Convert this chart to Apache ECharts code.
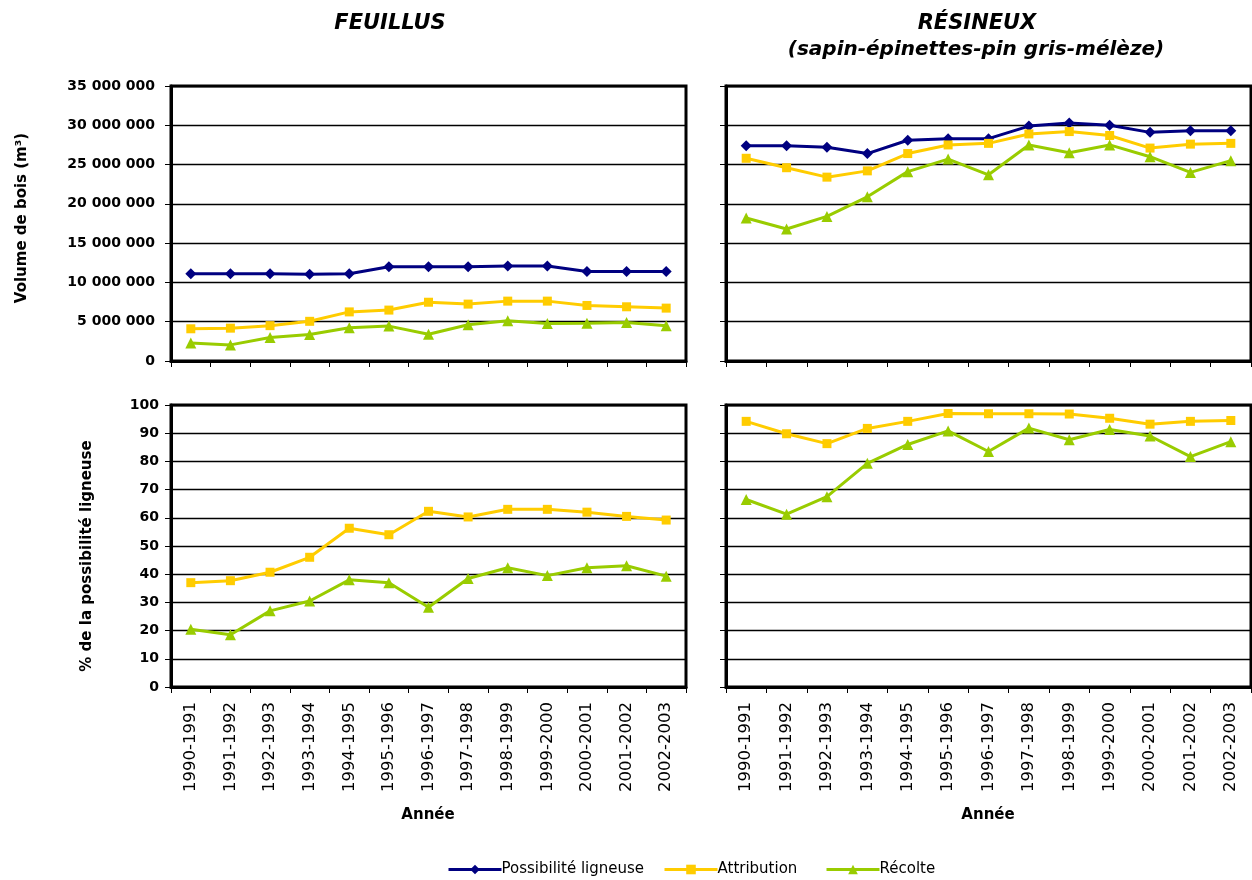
<!DOCTYPE html>
<html>
<head>
<meta charset="utf-8">
<script src="https://cdn.jsdelivr.net/npm/echarts@6/dist/echarts.min.js"></script>
<style>
html,body{margin:0;padding:0;background:#fff;}
#chart{width:1252px;height:880px;}
</style>
</head>
<body>
<div id="chart"></div>
<script>
const categories = ['1990-1991','1991-1992','1992-1993','1993-1994','1994-1995','1995-1996','1996-1997','1997-1998','1998-1999','1999-2000','2000-2001','2001-2002','2002-2003'];

// Feuillus - volumes (m³)
const feuPossibilite = [11100000,11100000,11100000,11050000,11100000,12000000,12000000,12000000,12100000,12100000,11400000,11400000,11400000];
const feuAttribution = [4100000,4180000,4500000,5050000,6250000,6480000,7480000,7240000,7620000,7620000,7070000,6900000,6730000];
const feuRecolte = [2280000,2050000,3000000,3370000,4220000,4440000,3400000,4620000,5120000,4780000,4820000,4900000,4480000];

// Résineux - volumes (m³)
const resPossibilite = [27400000,27400000,27200000,26400000,28100000,28300000,28300000,29900000,30300000,30000000,29100000,29300000,29300000];
const resAttribution = [25800000,24600000,23400000,24200000,26400000,27500000,27700000,28900000,29200000,28700000,27100000,27600000,27700000];
const resRecolte = [18200000,16800000,18400000,20900000,24100000,25700000,23700000,27500000,26500000,27500000,26000000,24000000,25500000];

// % de la possibilité ligneuse
const feuAttributionPct = [37,37.7,40.7,46,56.3,54,62.3,60.3,63,63,62,60.5,59.2];
const feuRecoltePct = [20.5,18.5,27,30.5,38,37,28.3,38.5,42.3,39.5,42.3,43,39.3];
const resAttributionPct = [94.2,89.8,86.3,91.7,94.2,97,96.9,96.9,96.8,95.3,93.2,94.2,94.5];
const resRecoltePct = [66.5,61.3,67.5,79.3,86,90.8,83.5,91.8,87.7,91.3,89,81.7,87];

const names = ['Possibilité ligneuse','Attribution','Récolte'];
const colors = {'Possibilité ligneuse':'#000080','Attribution':'#FFCC00','Récolte':'#99CC00'};
const symbols = {'Possibilité ligneuse':'diamond','Attribution':'rect','Récolte':'triangle'};
const symSizes = {'Possibilité ligneuse':11,'Attribution':9,'Récolte':11};

const FONT = '"DejaVu Sans", Verdana, sans-serif';

function fmt(v){ return String(v).replace(/\B(?=(\d{3})+(?!\d))/g,' '); }

const grids = [
  {left:171, top:86, width:515, height:275},
  {left:726, top:86, width:525, height:275},
  {left:171, top:405, width:515, height:282},
  {left:726, top:405, width:525, height:282}
].map(g => Object.assign(g, {show:true, borderColor:'#000', borderWidth:3, backgroundColor:'#fff', containLabel:false}));

function xAxis(idx, showLabels){
  return {
    type:'category', gridIndex:idx, data:categories, boundaryGap:true,
    axisLine:{show:true, lineStyle:{color:'#000', width:3}},
    axisTick:{show:true, inside:false, length:6, alignWithLabel:false, interval:0, lineStyle:{color:'#000', width:1}},
    axisLabel:{show:showLabels, rotate:90, interval:0, margin:15, color:'#000', fontFamily:FONT, fontSize:16.5},
    splitLine:{show:false}
  };
}
function yAxis(idx, max, interval, showLabels, formatter, margin){
  return {
    type:'value', gridIndex:idx, min:0, max:max, interval:interval,
    axisLine:{show:true, lineStyle:{color:'#000', width:3}},
    axisTick:{show:true, inside:false, length:6, lineStyle:{color:'#000', width:1}},
    axisLabel:{show:showLabels, margin:margin, color:'#000', fontFamily:FONT, fontSize:14, fontWeight:'bold', formatter:formatter},
    splitLine:{show:true, lineStyle:{color:'#000', width:1.3}}
  };
}

function line(name, idx, data){
  return {
    type:'line', name:name, xAxisIndex:idx, yAxisIndex:idx, data:data,
    symbol:symbols[name], symbolSize:symSizes[name], showSymbol:true,
    lineStyle:{color:colors[name], width:3},
    itemStyle:{color:colors[name]},
    animation:false, z:5
  };
}

function legendItem(name, left){
  return {
    data:[name], left:left, top:862, padding:0, itemWidth:53, itemHeight:12,
    lineStyle:{width:3},
    textStyle:{fontFamily:FONT, fontSize:15, color:'#000', padding:[0,0,0,-5]}
  };
}

const option = {
  animation:false,
  backgroundColor:'#fff',
  title:[
    {text:'FEUILLUS', left:385, top:8, textAlign:'center', textStyle:{fontFamily:FONT, fontSize:21, fontWeight:'bold', fontStyle:'italic', color:'#000'}},
    {text:'RÉSINEUX', left:972, top:8, textAlign:'center', textStyle:{fontFamily:FONT, fontSize:21, fontWeight:'bold', fontStyle:'italic', color:'#000'}},
    {text:'(sapin-épinettes-pin gris-mélèze)', left:971, top:35, textAlign:'center', textStyle:{fontFamily:FONT, fontSize:20, fontWeight:'bold', fontStyle:'italic', color:'#000'}}
  ],
  legend:[
    legendItem('Possibilité ligneuse', 447),
    legendItem('Attribution', 663),
    legendItem('Récolte', 825)
  ],
  grid:grids,
  xAxis:[xAxis(0,false), xAxis(1,false), xAxis(2,true), xAxis(3,true)],
  yAxis:[
    yAxis(0, 35000000, 5000000, true, fmt, 16),
    yAxis(1, 35000000, 5000000, false, fmt, 16),
    yAxis(2, 100, 10, true, null, 12),
    yAxis(3, 100, 10, false, null, 12)
  ],
  series:[
    line('Possibilité ligneuse',0,feuPossibilite),
    line('Attribution',0,feuAttribution),
    line('Récolte',0,feuRecolte),
    line('Possibilité ligneuse',1,resPossibilite),
    line('Attribution',1,resAttribution),
    line('Récolte',1,resRecolte),
    line('Attribution',2,feuAttributionPct),
    line('Récolte',2,feuRecoltePct),
    line('Attribution',3,resAttributionPct),
    line('Récolte',3,resRecoltePct)
  ],
  graphic:[
    {type:'text', x:22, y:218, rotation:Math.PI/2, style:{text:'Volume de bois (m³)', fontFamily:FONT, fontSize:15, fontWeight:'bold', fill:'#000', textAlign:'center', textVerticalAlign:'middle'}},
    {type:'text', x:87, y:556, rotation:Math.PI/2, style:{text:'% de la possibilité ligneuse', fontFamily:FONT, fontSize:15, fontWeight:'bold', fill:'#000', textAlign:'center', textVerticalAlign:'middle'}},
    {type:'text', x:428, y:815, style:{text:'Année', fontFamily:FONT, fontSize:15, fontWeight:'bold', fill:'#000', textAlign:'center', textVerticalAlign:'middle'}},
    {type:'text', x:988, y:815, style:{text:'Année', fontFamily:FONT, fontSize:15, fontWeight:'bold', fill:'#000', textAlign:'center', textVerticalAlign:'middle'}}
  ]
};

const chart = echarts.init(document.getElementById('chart'), null, {renderer:'canvas'});
chart.setOption(option);
</script>
</body>
</html>
